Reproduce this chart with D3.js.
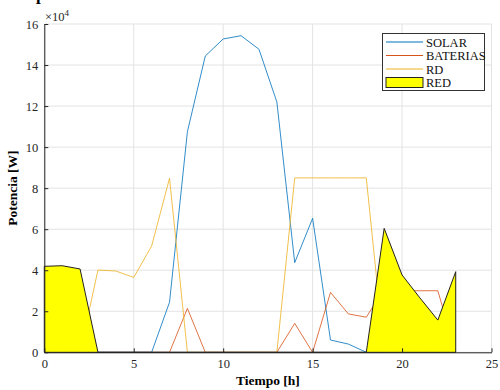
<!DOCTYPE html>
<html><head><meta charset="utf-8">
<script src="https://cdn.jsdelivr.net/npm/d3@7"></script>
<style>body{margin:0;background:#fff}svg{display:block}text{font-family:'Liberation Serif','Times New Roman',serif}</style>
</head><body>
<svg id="c" width="500" height="390"></svg>
<script>
const hours = d3.range(0, 24);
const solar =    [0,0,0,0,0,0,0,2.44,10.75,14.44,15.27,15.43,14.77,12.2,4.37,6.53,0.6,0.4,0,0,0,0,0,0].map(v=>v*1e4);
const baterias = [0,0,0,0,0,0,0,0,2.14,0,0,0,0,0,1.41,0,2.92,1.87,1.71,3.1,3.0,3.0,3.0,0].map(v=>v*1e4);
const rd =       [0,0,0,4.01,3.96,3.65,5.18,8.48,0,0,0,0,0,0,8.5,8.5,8.5,8.5,8.5,0,0,0,0,0].map(v=>v*1e4);
const red =      [4.19,4.22,4.06,0,0,0,0,0,0,0,0,0,0,0,0,0,0,0,0,6.04,3.77,2.65,1.57,3.93].map(v=>v*1e4);
const seriesNames = ["SOLAR","BATERIAS","RD","RED"];
const xTicks = [0,5,10,15,20,25];
const yTicks = [0,2,4,6,8,10,12,14,16].map(v=>v*1e4);

const svg = d3.select("#c");
const L = 44.3, R = 491.5, T = 24, B = 352.3;
const x = d3.scaleLinear().domain([0,25]).range([L,R]);
const y = d3.scaleLinear().domain([0,160000]).range([B,T]);
const font = "'Liberation Serif','Times New Roman',serif";

// grid
const g = svg.append("g");
g.selectAll(".gx").data(xTicks).join("line")
  .attr("x1",d=>x(d)).attr("x2",d=>x(d)).attr("y1",T).attr("y2",B)
  .attr("stroke","#e3e3e3").attr("stroke-width",1);
g.selectAll(".gy").data(yTicks).join("line")
  .attr("x1",L).attr("x2",R).attr("y1",d=>y(d)).attr("y2",d=>y(d))
  .attr("stroke","#e3e3e3").attr("stroke-width",1);

// lines
const colors = ["#0072BD","#D95319","#EDB120"];
const lineGen = d3.line().x((d,i)=>x(hours[i])).y(d=>y(d));
[solar, baterias, rd].forEach((s,k)=>{
  svg.append("path").attr("d", lineGen(s)).attr("fill","none")
    .attr("stroke", colors[k]).attr("stroke-width",0.9).attr("stroke-opacity",0.9);
});

// area
const areaGen = d3.area().x((d,i)=>x(hours[i])).y0(y(0)).y1(d=>y(d));
svg.append("path").attr("d", areaGen(red))
  .attr("fill","#ffff00").attr("stroke","#222").attr("stroke-width",1);

// axes
const ax = svg.append("g").attr("transform",`translate(0,${B})`)
  .call(d3.axisBottom(x).tickValues(xTicks).tickSizeInner(-4).tickSizeOuter(0).tickPadding(8));
const ay = svg.append("g").attr("transform",`translate(${L},0)`)
  .call(d3.axisLeft(y).tickValues(yTicks).tickFormat(d=>d/1e4).tickSizeInner(-4).tickSizeOuter(0).tickPadding(6));
[ax,ay].forEach(a=>{
  a.attr("font-family",font).attr("font-size",12.5);
  a.select(".domain").attr("stroke","#262626").attr("stroke-width",1);
  a.selectAll(".tick line").attr("stroke","#262626");
  a.selectAll(".tick text").attr("fill","#262626").attr("font-family",font).attr("font-size",12.5);
});
ax.selectAll(".tick text").attr("dy","0.6em");

// exponent
const ex = svg.append("text").attr("x",45).attr("y",21).attr("fill","#262626")
  .attr("font-family",font).attr("font-size",12.5);
ex.append("tspan").text("×10");
ex.append("tspan").attr("dy",-5).attr("font-size",9).text("4");

// labels
svg.append("text").attr("x",(L+R)/2).attr("y",385).attr("text-anchor","middle")
  .attr("font-family",font).attr("font-weight","bold").attr("font-size",13.5).text("Tiempo [h]");
svg.append("text").attr("transform",`translate(17,${(T+B)/2}) rotate(-90)`).attr("text-anchor","middle")
  .attr("font-family",font).attr("font-weight","bold").attr("font-size",13.5).text("Potencia [W]");
// cut-off title (only its lowest part is visible in the reference)
svg.append("text").attr("x",36).attr("y",0).attr("font-family",font).attr("font-weight","bold")
  .attr("font-size",17).text("p");

// legend
const lg = svg.append("g");
lg.append("rect").attr("x",382.5).attr("y",33.5).attr("width",102).attr("height",57)
  .attr("fill","#fff").attr("stroke","#333").attr("stroke-width",1);
const rowsY = [42,55.5,69,82.5];
seriesNames.forEach((n,i)=>{
  if(i<3){
    lg.append("line").attr("x1",386).attr("x2",423).attr("y1",rowsY[i]).attr("y2",rowsY[i])
      .attr("stroke",colors[i]).attr("stroke-width",1);
  } else {
    lg.append("rect").attr("x",386).attr("y",77.5).attr("width",37).attr("height",10)
      .attr("fill","#ffff00").attr("stroke","#222").attr("stroke-width",1);
  }
  lg.append("text").attr("x",426).attr("y",rowsY[i]+4.5).attr("fill","#111")
    .attr("font-family",font).attr("font-size",12.5).text(n);
});
</script>
</body></html>
